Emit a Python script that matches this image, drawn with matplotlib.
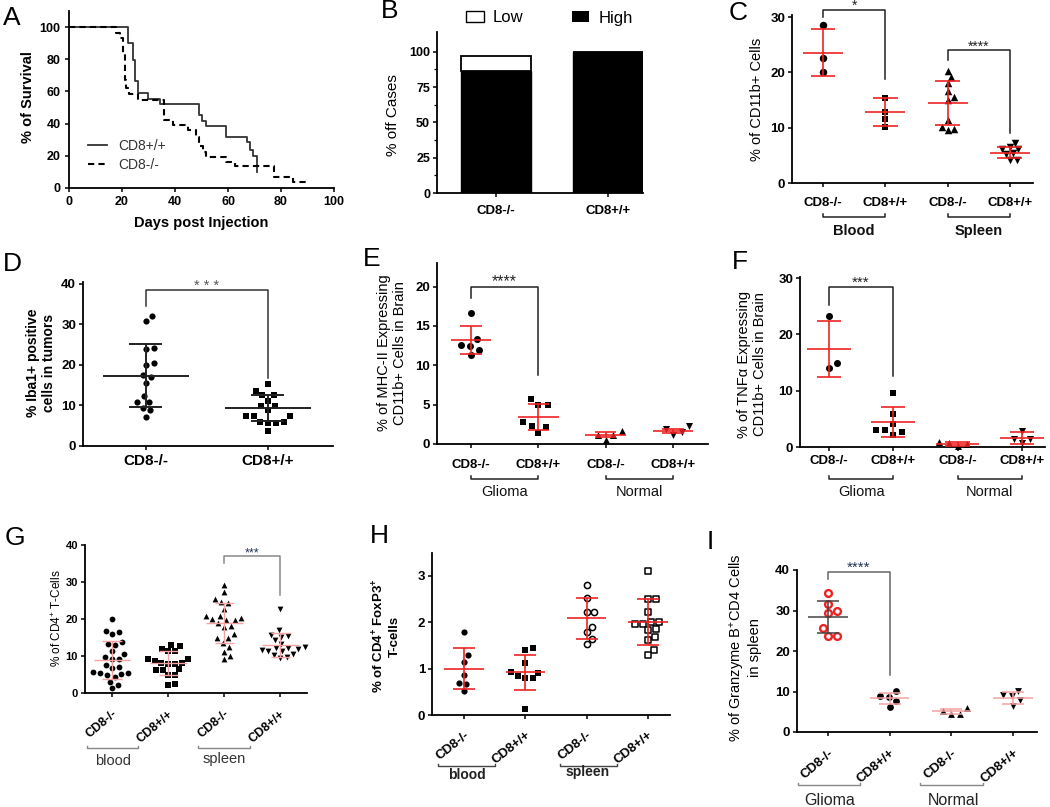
import numpy as np
import matplotlib
matplotlib.use('Agg')
import matplotlib.pyplot as plt
from matplotlib.lines import Line2D
from matplotlib.patches import Patch

plt.rcParams['font.family'] = ['Liberation Sans', 'DejaVu Sans']
plt.rcParams['mathtext.fontset'] = 'custom'
plt.rcParams['mathtext.rm'] = 'Liberation Sans'
plt.rcParams['mathtext.it'] = 'Liberation Sans:italic'
plt.rcParams['mathtext.bf'] = 'Liberation Sans:bold'

# ---------------- data ----------------
cats = ['CD8-/-', 'CD8+/+', 'CD8-/-', 'CD8+/+']

# A: Kaplan-Meier
a_wt_t = [0, 22.3, 24.2, 25.0, 26.0, 29.8, 34.2, 49.0, 50.2, 51.8, 59.4, 67.0, 68.2, 69.4, 71.0]
a_wt_s = [100, 90, 79.7, 66.3, 59, 55.3, 52, 45.1, 41.5, 38.3, 31.5, 28.4, 23.8, 19.7, 10]
a_ko_t = [0, 17.9, 19.4, 20.4, 21.1, 21.6, 22.6, 26.0, 35.8, 39.2, 44.9, 48.0, 49.0, 50.5, 51.8, 59.4, 62.5, 77.2, 84.5, 89.8]
a_ko_s = [100, 96.5, 93.5, 83.8, 67, 62, 58.6, 54.9, 42, 38.9, 36, 32, 26.3, 22.6, 19.5, 16, 13.5, 6.6, 3.5, 3.5]

# B: stacked bars
b_cats = ['CD8-/-', 'CD8+/+']
b_high = [86.7, 100]
b_low = [10.0, 0]

# C
c_blood_ko = [28.6, 22.6, 20.0]
c_blood_wt = [15.4, 12.9, 11.6, 10.2]
c_spleen_ko = [20.3, 19.2, 18.1, 16.6, 15.5, 15.1, 11.4, 10.2, 9.8, 9.6]
c_spleen_wt = [7.3, 6.5, 6.1, 6.1, 5.4, 5.2, 4.2, 4.2]
c_mean = [23.6, 12.8, 14.5, 5.45]
c_sd = [4.3, 2.55, 4.0, 1.0]

# D
d_ko = [32.0, 30.8, 24.0, 23.8, 20.5, 20.0, 17.4, 17.0, 15.4, 12.3, 10.9, 10.7, 9.4, 8.7, 7.0]
d_wt = [15.2, 13.6, 12.5, 12.4, 11.1, 9.8, 9.8, 8.8, 7.4, 7.3, 7.3, 5.9, 5.9, 5.7, 5.7, 3.7]
d_mean = [17.3, 9.2]
d_sd = [7.8, 3.2]

# E
e_g_ko = [16.7, 13.3, 12.6, 12.5, 12.0, 11.3]
e_g_wt = [5.7, 5.0, 4.9, 2.75, 2.3, 2.1, 1.45]
e_n_ko = [1.65, 1.2, 1.2, 0.5]
e_n_wt = [2.3, 1.9, 1.55, 1.15]
e_mean = [13.2, 3.4, 1.2, 1.7]
e_sd = [1.8, 1.65, 0.3, 0.25]

# F
f_g_ko = [23.2, 15.0, 14.1]
f_g_wt = [9.6, 5.9, 4.0, 3.1, 3.1, 2.7, 2.2]
f_n_ko = [0.9, 0.7, 0.5, 0.1]
f_n_wt = [2.9, 1.5, 1.4, 0.7]
f_mean = [17.4, 4.4, 0.5, 1.6]
f_sd = [4.9, 2.7, 0.3, 1.1]

# G
g_b_ko = [20.0, 16.8, 16.4, 15.8, 13.6, 13.3, 13.0, 11.3, 10.5, 9.6, 9.2, 9.0, 7.5, 7.0, 6.6,
          5.5, 5.3, 5.2, 5.0, 4.7, 4.3, 3.0, 2.2, 1.2]
g_b_wt = [12.9, 12.6, 11.9, 11.2, 11.2, 9.2, 9.0, 8.7, 8.1, 8.1, 7.9, 7.9, 6.3, 6.1, 6.1, 4.8, 4.7, 2.3, 2.1]
g_s_ko = [29.3, 27.3, 25.3, 24.6, 24.2, 22.7, 20.8, 20.8, 20.3, 19.9, 19.7, 19.7, 18.8, 18.1, 17.9,
          15.8, 14.7, 14.7, 13.5, 12.5, 11.1, 9.9, 9.0]
g_s_wt = [22.8, 17.0, 15.6, 15.4, 15.2, 14.2, 13.2, 12.4, 12.2, 12.0, 11.8, 11.6, 11.4, 11.2, 10.6, 10.2, 9.6, 9.4]
g_mean = [8.85, 8.1, 18.8, 13.0]
g_sd = [5.05, 3.2, 5.45, 3.2]

# H
h_b_ko = [1.79, 1.29, 1.15, 0.86, 0.70, 0.67, 0.51]
h_b_wt = [1.44, 1.39, 1.11, 0.93, 0.91, 0.84, 0.79, 0.79, 0.14]
h_s_ko = [2.81, 2.53, 2.21, 2.21, 1.90, 1.78, 1.64, 1.53]
h_s_wt = [3.10, 2.50, 2.50, 2.21, 2.01, 2.00, 1.96, 1.96, 1.86, 1.83, 1.68, 1.61, 1.39, 1.29]
h_mean = [1.0, 0.92, 2.08, 2.0]
h_sd = [0.45, 0.38, 0.45, 0.5]

# I
i_g_ko = [34.2, 31.5, 29.9, 29.3, 25.6, 23.8, 23.8]
i_g_wt = [10.1, 8.9, 8.7, 7.6, 6.2]
i_n_ko = [5.9, 5.1, 4.5, 4.4]
i_n_wt = [10.2, 9.2, 8.8, 7.9, 6.5]
i_mean = [28.4, 8.3, 5.1, 8.3]
i_sd = [3.9, 1.45, 0.7, 1.5]

# ---------------- helpers ----------------
W, H = 1050, 807
fig = plt.figure(figsize=(W / 100, H / 100), dpi=100)
RED = '#ee2222'
LRED = '#f3a3a3'


def add_ax(left, top, right, bottom, xlim, ylim):
    ax = fig.add_axes([left / W, 1 - bottom / H, (right - left) / W, (bottom - top) / H])
    ax.set_xlim(*xlim)
    ax.set_ylim(*ylim)
    for s in ['top', 'right']:
        ax.spines[s].set_visible(False)
    for s in ['left', 'bottom']:
        ax.spines[s].set_linewidth(1.3)
    ax.tick_params(direction='out', length=3, width=1.1, labelsize=9.5, pad=2)
    ax.patch.set_alpha(0)
    return ax


def bold_y(ax, size=9.5):
    for lab in ax.get_yticklabels():
        lab.set_fontweight('bold')
        lab.set_fontsize(size)


def ftext(x, y, s, **kw):
    fig.text(x / W, 1 - y / H, s, **kw)


def fline(xs, ys, **kw):
    fig.add_artist(Line2D([x / W for x in xs], [1 - y / H for y in ys],
                          transform=fig.transFigure, **kw))


def px_x(ax, x):
    return ax.transData.transform((x, 0))[0]


def ax_bottom_px(ax):
    return H - ax.bbox.y0


def swarm(ax, vals, d):
    vals = np.asarray(vals, float)
    ypx = ax.transData.transform(np.column_stack([np.zeros_like(vals), vals]))[:, 1]
    order = np.argsort(ypx)
    px_, py_ = [], []
    xs = np.zeros(len(vals))
    for i in order:
        y = ypx[i]
        cands = [0.0]
        for a, b in zip(px_, py_):
            dy = abs(y - b)
            if dy < d:
                dx = np.sqrt(d * d - dy * dy)
                cands += [a + dx, a - dx]
        cands.sort(key=lambda c: (abs(c), -c))
        chosen = cands[-1]
        for c in cands:
            if all((c - a) ** 2 + (y - b) ** 2 >= d * d - 1e-6 for a, b in zip(px_, py_)):
                chosen = c
                break
        xs[i] = chosen
        px_.append(chosen)
        py_.append(y)
    return xs


def dotplot(ax, groups, markers, faces, edges, diam, means, sds, ecolors,
            mean_hw=0.32, cap_hw=0.17, elw=1.2, sep=1.25, open_lw=1.2):
    x0, x1 = ax.get_xlim()
    pxu = ax.bbox.width / (x1 - x0)
    for i, vals in enumerate(groups):
        offs = swarm(ax, vals, diam * sep) / pxu
        m = markers[i]
        size_pt = diam / 1.389
        if m == 's':
            size_pt *= 0.88
        lw = open_lw if faces[i] in ('white', 'none') else 0
        ax.scatter(i + offs, vals, marker=m, s=size_pt ** 2, facecolors=faces[i],
                   edgecolors=edges[i], linewidths=lw, zorder=2, clip_on=False)
        mu, sd = means[i], sds[i]
        ec = ecolors[i]
        kw = dict(color=ec, lw=elw, zorder=3, solid_capstyle='butt', clip_on=False)
        ax.plot([i - mean_hw, i + mean_hw], [mu, mu], **kw)
        ax.plot([i, i], [mu - sd, mu + sd], **kw)
        ax.plot([i - cap_hw, i + cap_hw], [mu + sd, mu + sd], **kw)
        ax.plot([i - cap_hw, i + cap_hw], [mu - sd, mu - sd], **kw)


def sig(ax, x0, x1, y, y0, y1, stars, fs=10.5, color='#222', lw=1.1, tcolor='#222'):
    ax.plot([x0, x0, x1, x1], [y0, y, y, y1], color=color, lw=lw, clip_on=False, zorder=4)
    ax.text((x0 + x1) / 2, y, stars, ha='center', va='baseline', fontsize=fs,
            color=tcolor, clip_on=False)


def group_bracket(ax, xa, xb, below, label, lab_x, lab_below, color='#222', lw=1.1,
                  end_h=3, fs=10, weight='normal', tcolor='#111'):
    yb = ax_bottom_px(ax) + below
    X0, X1 = px_x(ax, xa), px_x(ax, xb)
    fline([X0, X0, X1, X1], [yb - end_h, yb, yb, yb - end_h], color=color, lw=lw)
    ftext(px_x(ax, lab_x), ax_bottom_px(ax) + lab_below, label, ha='center', va='baseline',
          fontsize=fs, fontweight=weight, color=tcolor)


def cat_xticks(ax, labels, fs=9.5, weight='bold', pad=5, rot=0):
    ax.set_xticks(range(len(labels)))
    if rot:
        ax.set_xticklabels(labels, rotation=rot, ha='right', rotation_mode='anchor',
                           fontsize=fs, fontweight=weight)
    else:
        ax.set_xticklabels(labels, fontsize=fs, fontweight=weight)
    ax.tick_params(axis='x', pad=pad)


def panel_letter(x, y, s):
    ftext(x, y, s, fontsize=19, va='baseline', ha='left')


# ---------------- A ----------------
axA = add_ax(69, 11, 334, 188, (0, 100), (0, 110))
lw_, = axA.step(a_wt_t, a_wt_s, where='post', color='#333333', lw=1.3, label='CD8+/+')
lk_, = axA.step(a_ko_t, a_ko_s, where='post', color='black', lw=1.5, ls=(0, (3, 2)), label='CD8-/-')
axA.set_xticks(range(0, 101, 20))
axA.set_yticks(range(0, 101, 20))
axA.tick_params(pad=3, labelsize=9)
for lab in axA.get_xticklabels() + axA.get_yticklabels():
    lab.set_fontweight('bold')
axA.legend(handles=[lw_, lk_], loc='upper left', bbox_to_anchor=(88 / W, 1 - 139 / H),
           bbox_transform=fig.transFigure, frameon=False, fontsize=10, handlelength=1.35,
           handletextpad=0.8, labelspacing=0.35, borderpad=0, borderaxespad=0, labelcolor='#333333')
ftext(201, 227, 'Days post Injection', ha='center', va='baseline', fontsize=10.5, fontweight='bold')
ftext(28, 97, '% of Survival', ha='center', va='center', rotation=90, fontsize=10.5, fontweight='bold')
panel_letter(3, 25, 'A')

# ---------------- B ----------------
axB = add_ax(437, 32, 643, 193, (-0.527, 1.3125), (0, 114))
xb = np.arange(len(b_cats))
axB.bar(xb, b_high, width=0.62, color='black', edgecolor='black', lw=1.0)
axB.bar(xb, b_low, bottom=b_high, width=0.62, color='white', edgecolor='black', lw=1.3)
axB.set_yticks([0, 25, 50, 75, 100])
axB.set_yticks([12.5, 37.5, 62.5, 87.5], minor=True)
axB.tick_params(axis='y', which='minor', length=2, width=0.9)
bold_y(axB, 9)
cat_xticks(axB, b_cats, fs=9.5, pad=6)
axB.legend(handles=[Patch(facecolor='white', edgecolor='black', lw=1.0), Patch(facecolor='black')],
           labels=['Low', 'High'], ncol=2, loc='center left',
           bbox_to_anchor=(466 / W, 1 - 18 / H), bbox_transform=fig.transFigure, frameon=False,
           fontsize=12, handlelength=1.05, handleheight=0.65, handletextpad=0.55, columnspacing=2.9,
           borderpad=0, borderaxespad=0)
ftext(393, 115, '% off Cases', ha='center', va='center', rotation=90, fontsize=11)
panel_letter(381, 18, 'B')

# ---------------- C ----------------
axC = add_ax(792, 15, 1033, 183, (-0.497, 3.37), (0, 30.4))
axC.set_yticks([0, 10, 20, 30])
bold_y(axC)
cat_xticks(axC, cats, fs=9.5, pad=7)
dotplot(axC, [c_blood_ko, c_blood_wt, c_spleen_ko, c_spleen_wt], ['o', 's', '^', 'v'],
        ['black'] * 4, ['black'] * 4, 7.5, c_mean, c_sd, [RED] * 4,
        mean_hw=0.32, cap_hw=0.2, sep=0.9)
sig(axC, 0, 1, 31.3, 30.0, 18.8, '*', fs=10)
sig(axC, 2, 3, 24.0, 22.2, 9.0, '****', fs=10)
group_bracket(axC, 0, 1, 34, 'Blood', 0.5, 52, fs=10.5, weight='bold')
group_bracket(axC, 2, 3, 34, 'Spleen', 2.5, 52, fs=10.5, weight='bold')
ftext(757, 99, '% of CD11b+ Cells', ha='center', va='center', rotation=90, fontsize=10.5)
panel_letter(729, 20, 'C')

# ---------------- D ----------------
axD = add_ax(83, 282, 333, 445.7, (-0.516, 1.533), (0, 40.4))
axD.set_yticks([0, 10, 20, 30, 40])
bold_y(axD)
cat_xticks(axD, cats[:2], fs=11, pad=3)
dotplot(axD, [d_ko, d_wt], ['o', 's'], ['black'] * 2, ['black'] * 2, 6.2, d_mean, d_sd,
        ['#222222'] * 2, mean_hw=0.35, cap_hw=0.135, elw=1.4, sep=1.3)
sig(axD, 0, 1, 38.4, 34.4, 16.8, '* * *', fs=10.5, color='#333333', tcolor='#555555')
ftext(41, 363, '% Iba1+ positive\ncells in tumors', ha='center', va='center', rotation=90,
      fontsize=10, fontweight='bold', linespacing=1.15)
panel_letter(3, 271, 'D')

# ---------------- E ----------------
axE = add_ax(437, 263, 708, 444, (-0.505, 3.52), (0, 23.0))
axE.set_yticks([0, 5, 10, 15, 20])
bold_y(axE)
cat_xticks(axE, cats, fs=9.5, pad=8)
dotplot(axE, [e_g_ko, e_g_wt, e_n_ko, e_n_wt], ['o', 's', '^', 'v'], ['black'] * 4,
        ['black'] * 4, 7.0, e_mean, e_sd, [RED] * 4, mean_hw=0.3, cap_hw=0.16, sep=1.35)
sig(axE, 0, 1, 20.0, 18.5, 8.8, '****', fs=11.5)
group_bracket(axE, 0, 1, 35, 'Glioma', 0.5, 52, fs=10.5)
group_bracket(axE, 2, 3, 35, 'Normal', 2.5, 52, fs=10.5)
ftext(392, 353, '% of MHC-II Expressing\nCD11b+ Cells in Brain', ha='center', va='center',
      rotation=90, fontsize=10.5, linespacing=1.1)
panel_letter(363, 266, 'E')

# ---------------- F ----------------
axF = add_ax(800, 277, 1045, 447, (-0.45, 3.36), (0, 30.2))
axF.set_yticks([0, 10, 20, 30])
bold_y(axF)
cat_xticks(axF, cats, fs=9.5, pad=3)
dotplot(axF, [f_g_ko, f_g_wt, f_n_ko, f_n_wt], ['o', 's', '^', 'v'], ['black'] * 4,
        ['black'] * 4, 7.0, f_mean, f_sd, [RED] * 4, mean_hw=0.34, cap_hw=0.19, sep=1.35)
sig(axF, 0, 1, 28.5, 25.3, 12.7, '***', fs=11)
group_bracket(axF, 0, 1, 32, 'Glioma', 0.5, 49, fs=10.5)
group_bracket(axF, 2, 3, 32, 'Normal', 2.5, 49, fs=10.5)
ftext(752, 364, '% of TNFα Expressing\nCD11b+ Cells in Brain', ha='center', va='center',
      rotation=90, fontsize=10.5, linespacing=1.1)
panel_letter(732, 269, 'F')

# ---------------- G ----------------
axG = add_ax(85, 545, 307, 692.7, (-0.482, 3.48), (0, 40))
axG.set_yticks([0, 10, 20, 30, 40])
bold_y(axG, 8)
cat_xticks(axG, cats, fs=9, pad=8, rot=40)
dotplot(axG, [g_b_ko, g_b_wt, g_s_ko, g_s_wt], ['o', 's', '^', 'v'], ['black'] * 4,
        ['black'] * 4, 5.8, g_mean, g_sd, [LRED] * 4, mean_hw=0.33, cap_hw=0.17, elw=1.0, sep=1.2)
sig(axG, 2, 3, 37.0, 35.0, 26.4, '***', fs=9, color='#888888', tcolor='#223355')
group_bracket(axG, -0.455, 0.455, 55, 'blood', 0.02, 72, color='#888888', lw=1.0, end_h=2,
              fs=10.5, tcolor='#333333')
group_bracket(axG, 1.54, 2.455, 55, 'spleen', 2.0, 70, color='#888888', lw=1.0, end_h=2,
              fs=10.5, tcolor='#333333')
ftext(57, 618, '% of CD4$^{+}$ T-Cells', ha='center', va='center', rotation=90, fontsize=8.5)
panel_letter(5, 545, 'G')

# ---------------- H ----------------
axH = add_ax(432, 553, 670, 715, (-0.522, 3.36), (0, 3.49))
axH.set_yticks([0, 1, 2, 3])
bold_y(axH)
cat_xticks(axH, cats, fs=9.5, pad=7, rot=38)
dotplot(axH, [h_b_ko, h_b_wt, h_s_ko, h_s_wt], ['o', 's', 'o', 's'],
        ['black', 'black', 'white', 'white'], ['black'] * 4, 6.2, h_mean, h_sd, [RED] * 4,
        mean_hw=0.32, cap_hw=0.18, elw=1.2, sep=1.25, open_lw=1.1)
group_bracket(axH, -0.42, 0.505, 51, 'blood', 0.04, 64, color='#444444', lw=1.0, end_h=2,
              fs=10, weight='bold', tcolor='#222222')
group_bracket(axH, 1.565, 2.495, 51, 'spleen', 2.02, 61, color='#444444', lw=1.0, end_h=2,
              fs=10, weight='bold', tcolor='#222222')
ftext(386, 636, '% of CD4$^{\\mathbf{+}}$ FoxP3$^{\\mathbf{+}}$\nT-cells', ha='center', va='center',
      rotation=90, fontsize=9.5, fontweight='bold', linespacing=1.3)
panel_letter(370, 543, 'H')

# ---------------- I ----------------
axI = add_ax(797, 570, 1037, 732, (-0.503, 3.39), (0, 40))
axI.set_yticks([0, 10, 20, 30, 40])
bold_y(axI)
cat_xticks(axI, cats, fs=9.5, pad=8, rot=40)
dotplot(axI, [i_g_ko, i_g_wt, i_n_ko, i_n_wt], ['o', 'o', '^', 'v'],
        ['white', 'black', 'black', 'black'], [RED, 'black', 'black', 'black'], 6.8,
        i_mean, i_sd, ['#444444', LRED, LRED, LRED], mean_hw=0.32, cap_hw=0.18, elw=1.1,
        sep=1.3, open_lw=1.7)
sig(axI, 0, 1, 39.6, 37.9, 14.1, '****', fs=11, color='#666666', tcolor='#223355')
group_bracket(axI, -0.486, 0.52, 53, 'Glioma', 0.03, 73, color='#888888', lw=1.0, end_h=2,
              fs=11.5, tcolor='#222222')
group_bracket(axI, 1.49, 2.51, 53, 'Normal', 2.03, 73, color='#888888', lw=1.0, end_h=2,
              fs=11.5, tcolor='#222222')
ftext(745, 648, '% of Granzyme B$^{+}$CD4 Cells\nin spleen', ha='center', va='center',
      rotation=90, fontsize=10.5, linespacing=1.15)
panel_letter(707, 549, 'I')

fig.savefig('out.png', dpi=100)
